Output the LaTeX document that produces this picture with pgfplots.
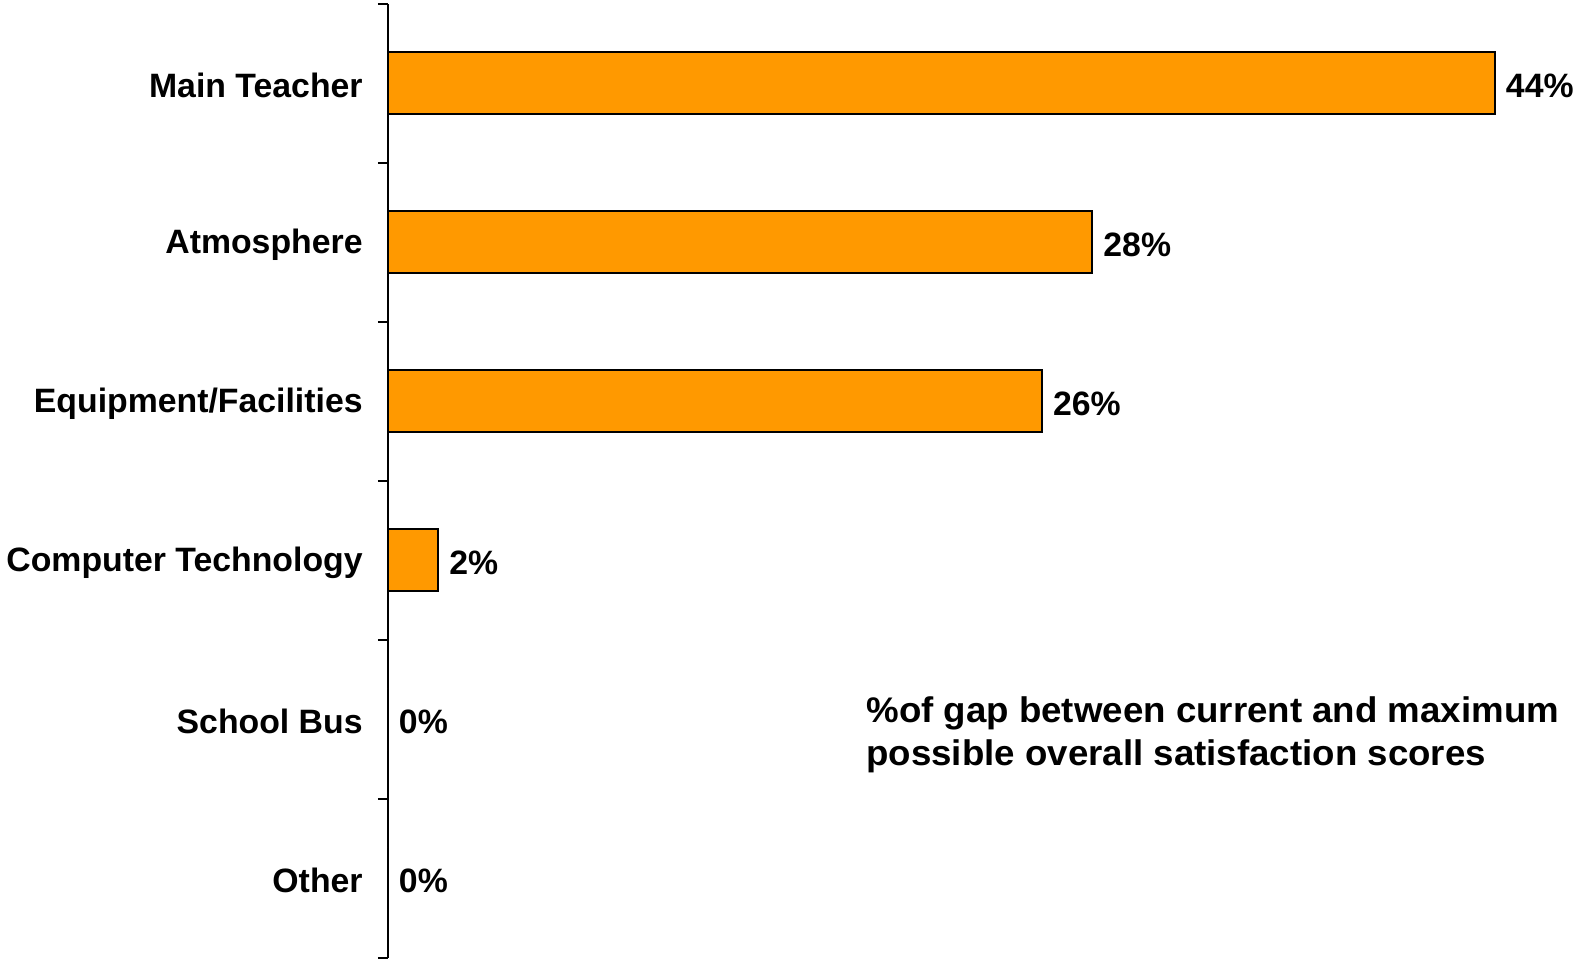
\documentclass[border=0pt]{standalone}
\usepackage{fontspec}
\setmainfont{Liberation Sans}
\usepackage{graphicx}
\usepackage{pgfplots}
\pgfplotsset{compat=1.18}
\definecolor{barorange}{RGB}{255,153,0}
\begin{document}
\begin{tikzpicture}
\begin{axis}[
  scale only axis,
  width=595.5pt, height=477pt,
  xmin=0, xmax=47.34,
  ymin=-0.5, ymax=5.5,
  axis x line=none,
  axis y line*=left,
  axis line style={line width=1pt, black},
  xbar, bar width=31pt,
  ytick={0,1,2,3,4,5},
  yticklabels={Other, School Bus, Computer Technology, Equipment/Facilities, Atmosphere, Main Teacher},
  major tick length=0pt,
  minor ytick={-0.5,0.5,1.5,2.5,3.5,4.5,5.5},
  minor tick length=5pt,
  tick align=outside,
  every tick/.style={black, line width=1pt},
  yticklabel style={font=\fontsize{16.9}{20}\selectfont\bfseries, inner sep=0pt, xshift=-12.5pt, yshift=-1pt},
  /pgf/number format/assume math mode=true,
  nodes near coords={\pgfmathprintnumber{\pgfplotspointmeta}\%},
  nodes near coords style={font=\fontsize{16.9}{20}\selectfont\bfseries, anchor=west, inner sep=0pt, xshift=5pt, yshift=-1pt},
  clip=false,
]
\addplot[fill=barorange, draw=black, line width=1pt] coordinates {
  (44,5) (28,4) (26,3) (2,2) (0,1) (0,0)
};
\node[anchor=north west, inner sep=0pt]
  at (axis cs:19.0,1.175) {\scalebox{1.03}[1]{\fontsize{17.8}{21.5}\selectfont\bfseries
  \begin{tabular}{@{}l@{}}\%of gap between current and maximum\\possible overall satisfaction scores\end{tabular}}};
\end{axis}
\pgfresetboundingbox
\useasboundingbox ([xshift=-194pt,yshift=-5pt]current axis.south west) rectangle ([yshift=2pt]current axis.north east);
\end{tikzpicture}
\end{document}
